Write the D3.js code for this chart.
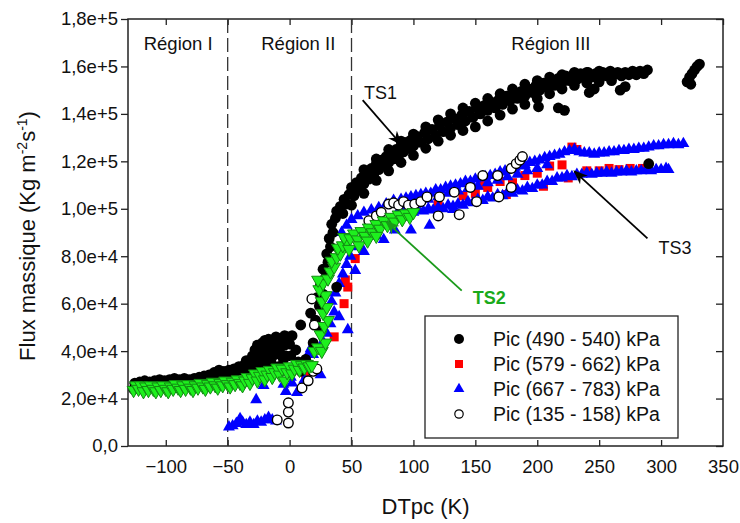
<!DOCTYPE html>
<html>
<head>
<meta charset="UTF-8">
<title>Flux massique vs DTpc</title>
<script src="https://d3js.org/d3.v7.min.js"></script>
<style>
  body { margin: 0; background: #fff; }
  svg text { font-family: "Liberation Sans", Arial, sans-serif; fill: #111; }
</style>
</head>
<body>
<div id="chart"></div>
<script>
// data: [DTpc (K), flux (kg m-2 s-1)]
const blackPts = [
  [-126,24000],[-125,26500],[-123,25500],[-121,27000],[-119,26000],[-117,27500],[-115,26500],[-113,27000],[-111,26000],[-109,27500],
  [-107,26500],[-105,28000],[-103,27000],[-101,27500],[-99,26500],[-97,28000],[-95,27000],[-93,28500],[-91,27500],[-89,28000],
  [-87,27000],[-85,28500],[-83,27500],[-81,28000],[-79,27000],[-77,28500],[-75,27500],[-73,29000],[-71,28000],[-69,29500],
  [-67,28500],[-65,30000],[-63,29000],[-61,31000],[-59,30000],[-57,32000],[-55,30500],[-53,31500],[-51,30500],[-49,32000],
  [-47,31000],[-45,32500],[-43,31500],[-41,33500],[-39,32000],[-37,34000],[-35,32500],[-33,35500],[-31,33500],[-29,36500],
  [-27,34000],[-25,39000],[-24,42500],[-23,36000],[-21,40500],[-19,37500],[-18,43000],[-16,40000],[-15,35500],[-13,42000],
  [-12,38500],[-10,44500],[-9,33500],[-8,41000],[-6,45000],[-5,36500],[-4,42500],[-2,46000],[-1,31500],[0,43000],
  [1,38000],[2,46500],[3,33000],[5,40500],[7,35500],[9,31500],[11,33500],[13,36500],
  [-30,38000],[-28,40500],[-26,42500],[-22,43500],[-20,44500],[-17,45000],[-14,44500],[-11,46000],[-8,45000],[-4,46500],
  [-20,35000],[-14,33000],[-7,38500],[-3,38000],[-16,36500],[-35,36000],
  [9,51000],[19,43500],[25,49000],[21,53000],[17,56000],[24,59000],[22,62500],[27,64000],[25,68000],[29,71000],
  [27,74500],[31,77500],[30,81000],[33,84000],[32,87500],[35,90000],[34,93500],[37,96000],[38,99000],[41,101000],
  [43,98000],[38,67000],[44,104000],[46,102000],
  [48,106000],[50,109000],[52,105500],[54,111000],[56,108500],[58,113000],[60,110500],[62,115000],[64,112500],[66,117000],
  [68,114500],[70,119000],[72,116500],[74,120500],[76,118000],[78,122000],[80,119500],[82,123500],[84,121000],[86,125000],
  [88,122500],[90,126500],[92,124000],[94,128000],[96,125500],[98,129000],[100,126500],[103,130500],[106,128000],[109,132000],
  [112,129500],[115,133500],[118,131000],[121,135000],[124,132500],[127,136500],[130,134000],[133,138000],[136,135500],[139,139500],
  [142,137000],[145,141000],[148,138500],[151,142500],[154,140000],[157,143500],[160,141500],[163,145000],[166,142500],[169,146000],
  [172,144000],[175,147500],[178,145500],[181,148500],[184,146500],[187,149500],[190,147500],[193,150500],[196,149000],[199,152000],
  [202,150000],[205,153000],[208,151000],[211,154000],[214,152000],[217,155000],[220,153000],[223,156000],[226,154000],[229,156500],
  [232,154500],[235,157000],[238,155000],[241,157500],[244,155500],[247,157000],[250,155000],[253,157500],[256,156000],[259,158000],
  [262,156500],[265,157500],[268,156000],[271,157500],[274,156500],[277,158000],[280,156500],[283,158000],[286,157000],[289,158500],
  [60,116500],[70,121000],[80,125000],[90,128500],[100,131500],[110,134500],[120,137500],[130,140000],[140,142500],[150,144500],
  [160,146500],[170,148500],[180,150500],[190,152500],[200,154000],[210,155500],[220,156500],[230,157500],[240,157500],[250,158000],
  [50,101500],[60,106500],[70,112000],[80,116000],[90,119500],[100,122500],[110,125500],[120,128500],[130,131000],[140,133000],
  [150,134500],[160,137000],[170,139500],[180,142000],[190,144000],[200,146500],[210,148500],[220,150500],[230,152000],[240,153000],
  [250,153500],[260,154000],
  [201,143000],[217,142500],[222,141500],[242,149000],[246,150500],[267,150000],[271,151500],[290,119000],
  [321,153500],[323,155500],[325,157000],[327,158500],[329,160000],[331,161000],[324,152500]
];

const redPts = [
  [13,30000],[36,46000],[47,67000],[45,70000],[53,79000],[44,60000],[120,103000],[140,105500],[150,106500],[160,109000],
  [170,111500],[180,111000],[190,114000],[200,115000],[210,118000],[220,118500],[228,126000],[232,125000],[225,113000],[240,116000],
  [250,116000],[258,117000],[266,116500],[275,117000],[285,117000],[175,106000],[205,109500],[155,110000]
];

const bluePts = [
  [-49,8000],[-46,8500],[-43,9500],[-40,11500],[-38,10000],[-35,9000],[-32,10000],[-29,9000],[-26,10500],[-23,10000],
  [-20,11000],[-17,12000],[-14,11000],[-11,10500],
  [-27,19500],[-21,25500],[-3,23000],[2,26500],[6,22500],[9,25000],[12,28000],[15,38500],[17,41000],[14,36500],
  [19,38500],[22,32500],[25,30000],[1,29000],[-5,26000],
  [27,44000],[30,47500],[33,51500],[36,56500],[40,54500],[47,49000],[34,61000],[37,64500],[40,68500],[43,72500],
  [53,74000],[46,76500],[49,80000],[60,82000],[55,84000],[76,87000],[70,88500],[85,91000],[98,91000],[113,93000],[132,99700],
  [42,90000],[46,93000],[50,95500],[55,97000],[60,98500],[66,99500],[72,100500],[78,102000],[84,103500],
  [90,104000],[94,104500],[98,105000],[102,105500],[106,106000],[110,106500],[114,106500],[118,108000],[122,108000],[126,109000],
  [130,109500],[134,110000],[138,110500],[142,111500],[146,111500],[150,112500],[154,113000],[158,113500],[162,114000],[166,114500],
  [170,115500],[174,116000],[178,116500],[182,117500],[186,118000],[190,118500],[194,119500],[198,120000],[202,120500],[206,121500],
  [210,122000],[214,122500],[218,123000],[222,124000],[226,124500],[230,125000],[234,124000],[238,123500],[242,123500],[246,123000],
  [250,123500],[254,123500],[258,124000],[262,124000],[266,124500],[270,124500],[274,125000],[278,125000],[282,125500],[286,125500],
  [290,126000],[294,126500],[298,126500],[302,127000],[306,127000],[310,127500],[314,127000],[318,127500],
  [96,102000],[104,103000],[112,104000],[120,105000],[128,106500],[136,107500],[144,108500],[152,109500],[160,111000],[168,112000],
  [176,113500],[184,114500],[192,116000],[200,117000],[208,118500],
  [88,99000],[92,98000],[96,99500],[100,98500],[104,99500],[108,99000],[112,100000],[116,99500],[120,100500],[124,100000],
  [128,101500],[132,101000],[136,102000],[140,101500],[144,103000],[148,102500],[152,104000],[156,103500],[160,105000],[164,104500],
  [168,106000],[172,105500],[176,107000],[180,106500],[184,108000],[188,107500],[192,109000],[196,108500],[200,110000],[204,110000],
  [208,111500],[212,111500],[216,113000],[220,113000],[224,114000],[228,113500],[232,114500],[236,114500],[240,115000],[244,114500],
  [248,115000],[252,115000],[256,115500],[260,115000],[264,115500],[268,115500],[272,116000],[276,115500],[280,116000],[284,116000],
  [288,116500],[292,116000],[296,116500],[300,116500],[304,117000],[306,116500]
];

const whitePts = [
  [-10,11000],[-1,9700],[-1,14300],[-1,18200],[10,24500],[15,27500],[19,31500],[22,32500],[18,62000],[20,51000],
  [64,95000],[70,97000],[74,98500],[80,102000],[84,102500],[88,101500],[92,103000],[96,101500],[101,102000],[106,103000],
  [111,105000],[121,105000],[120,97000],[133,107000],[137,97500],[146,109000],[151,103000],[156,114000],[168,114000],[169,105000],
  [179,117000],[179,109000],[183,119000],[186,120500],[188,122000]
];

const greenPts = [
  [-126,23500],[-124,25500],[-122,24000],[-120,25500],[-118,23000],[-116,25000],[-114,23500],[-112,25500],[-110,24000],[-108,23000],
  [-106,25000],[-104,23500],[-102,25500],[-100,24000],[-98,23000],[-96,25000],[-94,24000],[-92,26000],[-90,24500],[-88,23500],
  [-86,25500],[-84,24000],[-82,26000],[-80,24500],[-78,23500],[-76,25500],[-74,24500],[-72,26500],[-70,25000],[-68,24000],
  [-66,26000],[-64,25000],[-62,27000],[-60,25500],[-58,24500],[-56,26500],[-54,25500],[-52,27500],[-50,26000],[-48,25000],
  [-46,27000],[-44,26000],[-42,28000],[-40,26500],[-38,25500],[-36,27500],[-34,29000],[-32,26500],[-30,28500],[-28,30500],
  [-26,27500],[-24,29500],[-22,31500],[-20,28000],[-18,30000],[-16,32000],[-14,29000],[-12,31000],[-10,33000],[-8,30000],
  [-6,32500],[-4,27500],[-2,31000],[0,33500],[2,30500],[4,32500],[6,34500],[8,32000],[10,34000],[12,33000],
  [14,34500],[16,33500],[18,34000],
  [20,40000],[23,41500],[26,40000],[29,43500],[25,47000],[28,50500],[31,53000],[27,56000],[30,58500],[26,61000],
  [29,63500],[24,66000],[27,68500],[23,70000],[31,70500],[33,73500],[36,75500],[34,78000],[38,79500],[41,81000],
  [39,83500],[43,84500],[46,86000],[44,88000],[49,87500],[52,89500],[55,87000],[58,90500],[61,88500],[64,92000],
  [67,90000],[70,93500],[73,91500],[76,95000],[79,93000],[82,96500],[85,94500],[88,97500],[91,95500],[94,98000],
  [97,96500],[100,98500],[48,83000],[56,84500],[63,86500],[70,88500]
];

const xTicks = [-100, -50, 0, 50, 100, 150, 200, 250, 300, 350];
const yTicks = [0, 20000, 40000, 60000, 80000, 100000, 120000, 140000, 160000, 180000];
const regionBounds = [-50, 50];
const regionLabels = [
  { text: "Région I", x: -90 },
  { text: "Région II", x: 7 },
  { text: "Région III", x: 211 }
];
const legendLabels = [
  "Pic (490 - 540) kPa",
  "Pic (579 - 662) kPa",
  "Pic (667 - 783) kPa",
  "Pic (135 - 158) kPa"
];
// arrows: from label end to the data band
const arrows = [
  { label: "TS1", lx: 60, ly: 149000, from: [59, 145800], to: [90, 127200], color: "#000", bold: false },
  { label: "TS3", lx: 298, ly: 83600, from: [289, 87500], to: [230, 115800], color: "#000", bold: false },
  { label: "TS2", lx: 148, ly: 62500, from: [139, 65500], to: [78, 94600], color: "#1a9a1a", bold: true }
];

const width = 740, height = 523;
const margin = { left: 128, right: 17, top: 19, bottom: 77 };

const svg = d3.select("#chart").append("svg")
  .attr("width", width).attr("height", height);

const x = d3.scaleLinear().domain([-130.5, 350]).range([margin.left, width - margin.right]);
const y = d3.scaleLinear().domain([0, 180000]).range([height - margin.bottom, margin.top]);

const fmtY = d => d === 0 ? "0,0" : d3.format(".1e")(d).replace(".", ",");

// axes
const gx = svg.append("g").attr("transform", `translate(0,${y(0)})`)
  .call(d3.axisBottom(x).tickValues(xTicks).tickSize(-6).tickPadding(14));
gx.selectAll("text").style("font-size", "18.5px");

svg.append("g").attr("transform", `translate(0,${margin.top})`)
  .call(d3.axisTop(x).tickValues(xTicks).tickSize(-6).tickFormat(""));

const gy = svg.append("g").attr("transform", `translate(${margin.left},0)`)
  .call(d3.axisLeft(y).tickValues(yTicks).tickSize(7).tickPadding(3).tickFormat(fmtY));
gy.selectAll("text").style("font-size", "18.5px");

svg.append("g").attr("transform", `translate(${width - margin.right},0)`)
  .call(d3.axisRight(y).tickValues(yTicks).tickSize(-7).tickFormat(""));

svg.selectAll(".domain").remove();
svg.selectAll(".tick line").attr("stroke", "#222").attr("stroke-width", 1.3);
// last x tick sits on the right frame
gx.selectAll(".tick").filter(d => d === 350).select("line").remove();

// frame
svg.append("rect")
  .attr("x", x.range()[0]).attr("y", y.range()[1])
  .attr("width", x.range()[1] - x.range()[0])
  .attr("height", y.range()[0] - y.range()[1])
  .attr("fill", "none").attr("stroke", "#222").attr("stroke-width", 1.5);

// region separators
svg.selectAll(".sep").data(regionBounds).join("line")
  .attr("x1", d => x(d)).attr("x2", d => x(d))
  .attr("y1", y(180000)).attr("y2", y(0))
  .attr("stroke", "#333").attr("stroke-width", 1.3)
  .attr("stroke-dasharray", "14,5");

svg.selectAll(".region").data(regionLabels).join("text")
  .attr("x", d => x(d.x)).attr("y", 50)
  .attr("text-anchor", "middle")
  .style("font-size", "18.5px")
  .text(d => d.text);

// markers
const plot = svg.append("g");
const tri = d3.symbol().type(d3.symbolTriangle).size(62)();
const triDown = d3.symbol().type(d3.symbolTriangle).size(72)();

plot.append("g").selectAll("rect").data(redPts).join("rect")
  .attr("x", d => x(d[0]) - 4.5).attr("y", d => y(d[1]) - 4.5)
  .attr("width", 9).attr("height", 9).attr("fill", "#ff0000");

plot.append("g").selectAll("path").data(bluePts).join("path")
  .attr("d", tri)
  .attr("transform", d => `translate(${x(d[0])},${y(d[1])})`)
  .attr("fill", "#0000ff");

plot.append("g").selectAll("circle").data(blackPts).join("circle")
  .attr("cx", d => x(d[0])).attr("cy", d => y(d[1])).attr("r", 5.4)
  .attr("fill", "#000");

plot.append("g").selectAll("circle").data(whitePts).join("circle")
  .attr("cx", d => x(d[0])).attr("cy", d => y(d[1])).attr("r", 4.8)
  .attr("fill", "#fff").attr("stroke", "#000").attr("stroke-width", 1.4);

plot.append("g").selectAll("path").data(greenPts).join("path")
  .attr("d", triDown)
  .attr("transform", d => `translate(${x(d[0])},${y(d[1])}) rotate(180)`)
  .attr("fill", "#1ef01e").attr("stroke", "#138a13").attr("stroke-width", 1);

// arrows
const defs = svg.append("defs");
arrows.forEach((a, i) => {
  defs.append("marker")
    .attr("id", "arr" + i).attr("viewBox", "0 0 10 10")
    .attr("refX", 9).attr("refY", 5)
    .attr("markerWidth", 8).attr("markerHeight", 8)
    .attr("orient", "auto")
    .append("path").attr("d", "M0,1 L10,5 L0,9 L3,5 Z").attr("fill", a.color);
});

arrows.forEach((a, i) => {
  svg.append("line")
    .attr("x1", x(a.from[0])).attr("y1", y(a.from[1]))
    .attr("x2", x(a.to[0])).attr("y2", y(a.to[1]))
    .attr("stroke", a.color).attr("stroke-width", 1.8)
    .attr("marker-end", `url(#arr${i})`);
  svg.append("text")
    .attr("x", x(a.lx)).attr("y", y(a.ly))
    .attr("dy", "0.35em")
    .style("font-size", "18px")
    .style("font-weight", a.bold ? "bold" : "normal")
    .style("fill", a.bold ? "#1aaa1a" : "#111")
    .text(a.label);
});

// legend
const lg = svg.append("g").attr("transform", "translate(425,316)");
lg.append("rect").attr("width", 253).attr("height", 122)
  .attr("fill", "#fff").attr("stroke", "#222").attr("stroke-width", 1.3);
const rowY = i => 23 + i * 25;
lg.append("circle").attr("cx", 34).attr("cy", rowY(0)).attr("r", 5).attr("fill", "#000");
lg.append("rect").attr("x", 30).attr("y", rowY(1) - 4).attr("width", 8).attr("height", 8).attr("fill", "#ff0000");
lg.append("path").attr("d", d3.symbol().type(d3.symbolTriangle).size(50)())
  .attr("transform", `translate(34,${rowY(2)})`).attr("fill", "#0000ff");
lg.append("circle").attr("cx", 34).attr("cy", rowY(3)).attr("r", 4.2)
  .attr("fill", "#fff").attr("stroke", "#000").attr("stroke-width", 1.2);
lg.selectAll("text.lab").data(legendLabels).join("text")
  .attr("x", 68).attr("y", (d, i) => rowY(i)).attr("dy", "0.36em")
  .style("font-size", "19.5px")
  .text(d => d);

// axis titles
svg.append("text")
  .attr("x", (x.range()[0] + x.range()[1]) / 2).attr("y", 514)
  .attr("text-anchor", "middle").style("font-size", "22px")
  .text("DTpc (K)");

const yt = svg.append("text")
  .attr("transform", "translate(35,236) rotate(-90)")
  .attr("text-anchor", "middle").style("font-size", "22px");
yt.append("tspan").text("Flux massique (Kg m");
yt.append("tspan").attr("baseline-shift", "super").style("font-size", "14px").text("-2");
yt.append("tspan").text("s");
yt.append("tspan").attr("baseline-shift", "super").style("font-size", "14px").text("-1");
yt.append("tspan").text(")");
</script>
</body>
</html>
